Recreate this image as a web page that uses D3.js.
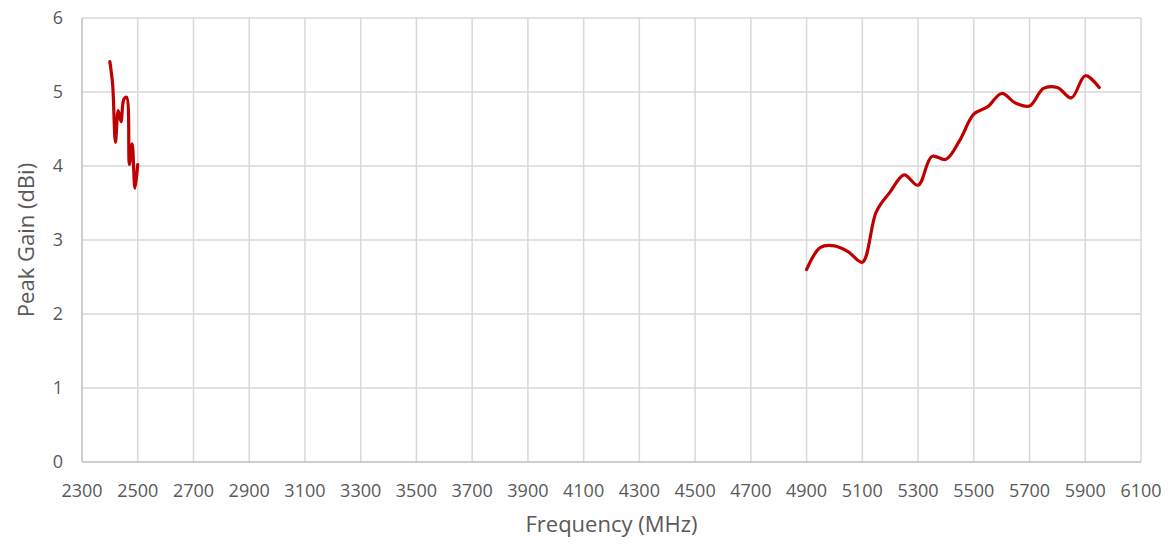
<!DOCTYPE html>
<html>
<head>
<meta charset="utf-8">
<script src="https://cdn.jsdelivr.net/npm/d3@7/dist/d3.min.js"></script>
<style>
  body { margin: 0; background: #fff; }
  text { font-family: "Open Sans", "Liberation Sans", sans-serif; fill: #595959; }
</style>
</head>
<body>
<div id="chart"></div>
<script>
"use strict";
// 2.4 GHz band
var freqLow = [2400, 2410, 2420, 2430, 2440, 2450, 2460, 2470, 2480, 2490, 2500];
var gainLow = [5.41, 5.1, 4.32, 4.75, 4.6, 4.9, 4.93, 4.02, 4.3, 3.7, 4.02];
// 5 GHz band
var freqHigh = [4900, 4950, 5000, 5050, 5100, 5150, 5200, 5250, 5300, 5350, 5400,
                5450, 5500, 5550, 5600, 5650, 5700, 5750, 5800, 5850, 5900, 5950];
var gainHigh = [2.6, 2.9, 2.92, 2.84, 2.7, 3.38, 3.65, 3.88, 3.74, 4.13, 4.09,
                4.35, 4.7, 4.8, 4.98, 4.85, 4.81, 5.05, 5.06, 4.92, 5.22, 5.06];
var xTicks = d3.range(2300, 6101, 200);
var yTicks = [0, 1, 2, 3, 4, 5, 6];

function drawChart()
{
    var w = 1171;
    var h = 544;
    var margin = {top: 18, right: 30, bottom: 82, left: 82};

    var svg = d3.select("#chart")
                .append("svg")
                .attr("width", w)
                .attr("height", h);

    var x = d3.scaleLinear()
              .domain([2300, 6100])
              .range([margin.left, w - margin.right]);
    var y = d3.scaleLinear()
              .domain([0, 6])
              .range([h - margin.bottom, margin.top]);

    // gridlines
    svg.append("g")
        .selectAll("line.hgrid")
        .data(yTicks.slice(1))
        .enter().append("line")
        .attr("x1", x(2300)).attr("x2", x(6100))
        .attr("y1", function(d){ return y(d); })
        .attr("y2", function(d){ return y(d); })
        .attr("stroke", "#d9d9d9")
        .attr("stroke-width", 1.5);

    svg.append("g")
        .selectAll("line.vgrid")
        .data(xTicks.slice(1))
        .enter().append("line")
        .attr("x1", function(d){ return x(d); })
        .attr("x2", function(d){ return x(d); })
        .attr("y1", y(0)).attr("y2", y(6))
        .attr("stroke", "#d9d9d9")
        .attr("stroke-width", 1.5);

    // axes lines
    svg.append("line")
        .attr("x1", x(2300)).attr("x2", x(6100))
        .attr("y1", y(0)).attr("y2", y(0))
        .attr("stroke", "#bfbfbf").attr("stroke-width", 1.5);
    svg.append("line")
        .attr("x1", x(2300)).attr("x2", x(2300))
        .attr("y1", y(0)).attr("y2", y(6))
        .attr("stroke", "#bfbfbf").attr("stroke-width", 1.5);

    // tick labels
    svg.append("g")
        .selectAll("text")
        .data(xTicks)
        .enter().append("text")
        .attr("x", function(d){ return x(d); })
        .attr("y", y(0) + 35)
        .attr("text-anchor", "middle")
        .style("font-size", "18px")
        .text(function(d){ return d; });

    svg.append("g")
        .selectAll("text")
        .data(yTicks)
        .enter().append("text")
        .attr("x", margin.left - 19)
        .attr("y", function(d){ return y(d) + 6; })
        .attr("text-anchor", "end")
        .style("font-size", "18px")
        .text(function(d){ return d; });

    // axis titles
    svg.append("text")
        .attr("x", (x(2300) + x(6100)) / 2)
        .attr("y", 532)
        .attr("text-anchor", "middle")
        .style("font-size", "22px")
        .text("Frequency (MHz)");

    svg.append("text")
        .attr("transform", "translate(34," + ((y(0) + y(6)) / 2) + ") rotate(-90)")
        .attr("text-anchor", "middle")
        .style("font-size", "22px")
        .text("Peak Gain (dBi)");

    var line = d3.line()
                 .x(function(d){ return x(d[0]); })
                 .y(function(d){ return y(d[1]); })
                 .curve(d3.curveCatmullRom.alpha(0.5));

    [d3.zip(freqLow, gainLow), d3.zip(freqHigh, gainHigh)].forEach(function(series) {
        svg.append("path")
            .datum(series)
            .attr("fill", "none")
            .attr("stroke", "#c00000")
            .attr("stroke-width", 3.2)
            .attr("stroke-linejoin", "round")
            .attr("stroke-linecap", "round")
            .attr("d", line);
    });
}

window.addEventListener('load', function (){
    drawChart();
});
</script>
</body>
</html>
